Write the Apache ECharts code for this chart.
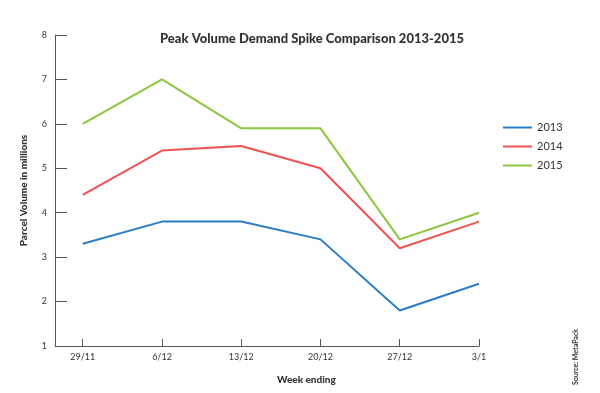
<!DOCTYPE html>
<html><head><meta charset="utf-8">
<script src="https://cdn.jsdelivr.net/npm/echarts@6/dist/echarts.min.js"></script>
<style>html,body{margin:0;padding:0;background:#fff}#c{width:600px;height:393px}</style>
</head><body><div id="c"></div>
<script>
const categories = ['29/11', '6/12', '13/12', '20/12', '27/12', '3/1'];
const s2013 = [3.3, 3.8, 3.8, 3.4, 1.8, 2.4];
const s2014 = [4.4, 5.4, 5.5, 5.0, 3.2, 3.8];
const s2015 = [6.0, 7.0, 5.9, 5.9, 3.4, 4.0];
const seriesNames = ['2013', '2014', '2015'];
const colors = ['#2a7cc5', '#ef5350', '#8cc63f'];

const idx = categories.map((_, i) => i);
const toPairs = arr => arr.map((v, i) => [i, v]);
const font = 'Lato, "Open Sans", sans-serif';

const chart = echarts.init(document.getElementById('c'));
chart.setOption({
  animation: false,
  title: {
    text: 'Peak Volume Demand Spike Comparison 2013-2015',
    left: 307, top: 27, textAlign: 'center',
    textStyle: { fontFamily: font, fontSize: 13, fontWeight: 900, color: '#333' }
  },
  legend: {
    orient: 'vertical', left: 498, top: 117, itemGap: 8,
    itemWidth: 29, itemHeight: 10,
    data: seriesNames.map(n => ({ name: n, icon: 'path://M0,4 L29,4 L29,6 L0,6 Z' })),
    textStyle: { fontFamily: font, fontSize: 11, color: '#333' }
  },
  grid: { left: 55, right: 121, top: 35, bottom: 47 },
  xAxis: {
    type: 'value', min: -0.35, max: 5,
    axisLine: { show: true, onZero: false, lineStyle: { color: '#555', width: 1 } },
    axisTick: { show: true, inside: true, length: 7, customValues: idx, lineStyle: { color: '#555' } },
    axisLabel: { customValues: idx, formatter: v => categories[Math.round(v)], fontFamily: font, fontSize: 9, color: '#333', margin: 7, alignMinLabel: 'center', alignMaxLabel: 'center', hideOverlap: false },
    splitLine: { show: false }
  },
  yAxis: {
    type: 'value', min: 1, max: 8, interval: 1,
    axisLine: { show: true, onZero: false, lineStyle: { color: '#555', width: 1 } },
    axisTick: { show: true, inside: true, length: 12, lineStyle: { color: '#555' } },
    axisLabel: { fontFamily: font, fontSize: 9, color: '#333', margin: 8 },
    splitLine: { show: false },
    name: 'Parcel Volume in millions', nameLocation: 'middle', nameGap: 26, nameRotate: 90,
    nameTextStyle: { fontFamily: font, fontSize: 10, fontWeight: 900, color: '#333' }
  },
  graphic: [
    { type: 'text', left: 277, top: 375, style: { text: 'Week ending', font: '900 10px ' + font, fill: '#333', textAlign: 'center' } },
    { type: 'text', x: 576, y: 385, rotation: Math.PI / 2, style: { text: 'Source: MetaPack', font: 'bold 7px ' + font, fill: '#333', textAlign: 'left', textVerticalAlign: 'middle' } }
  ],
  series: [s2013, s2014, s2015].map((arr, i) => ({
    name: seriesNames[i], type: 'line', data: toPairs(arr),
    showSymbol: false, symbol: 'none',
    lineStyle: { color: colors[i], width: 2 }, itemStyle: { color: colors[i] }
  }))
});
</script></body></html>
